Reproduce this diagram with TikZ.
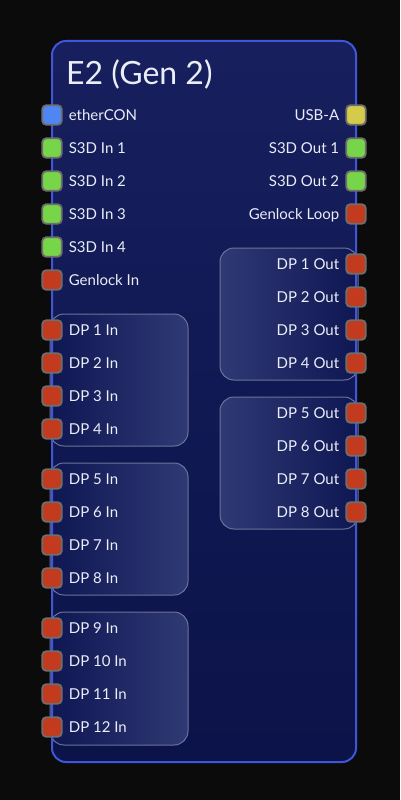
\documentclass[tikz,border=0pt]{standalone}
\usepackage{fontspec}
\setmainfont{Lato}
\usetikzlibrary{positioning}
\definecolor{bgdark}{HTML}{0B0B0C}
\definecolor{devtop}{HTML}{171F5E}
\definecolor{devbot}{HTML}{0B1349}
\definecolor{devnavy}{HTML}{0F1753}
\definecolor{devblue}{HTML}{3F55DA}
\definecolor{grplight}{HTML}{2F3974}
\definecolor{grpedge}{HTML}{6C7399}
\definecolor{portgray}{HTML}{6E6E6E}
\definecolor{portblue}{HTML}{4F86F4}
\definecolor{portgreen}{HTML}{77D549}
\definecolor{portyellow}{HTML}{D5CB4B}
\definecolor{portred}{HTML}{C23B1F}
\definecolor{labelwhite}{HTML}{EAEEF7}

\begin{document}
\begin{tikzpicture}[x=1pt, y=-1pt]
    \tikzstyle{devbox} = [rectangle, rounded corners=14pt, minimum width=304pt, minimum height=721pt, inner sep=0pt];
    \tikzstyle{grp} = [rounded corners=14pt, draw=grpedge, line width=1pt];
    \tikzstyle{port} = [rectangle, draw=portgray, line width=1.8pt, rounded corners=4pt, minimum size=19.5pt, inner sep=0pt];
    \tikzstyle{lbl} = [text=labelwhite, font=\fontsize{15}{18}\selectfont, inner sep=0pt, text height=12pt, text depth=2pt];
    \fill[bgdark] (0,0) rectangle (400,800);
    \useasboundingbox (0,0) rectangle (400,800);
    % device body
    \node[devbox, top color=devtop, bottom color=devbot] (dev) at (204,401.5) {};
    \node[text=labelwhite, font=\fontsize{32}{38}\selectfont, anchor=west, inner sep=0pt] (title) at (66,74) {E2 (Gen 2)};
    % port groups
    \foreach \top/\bot in {314/446, 463/595, 612/745}
        \draw[grp, left color=devnavy, right color=grplight] (50,\top) rectangle (188,\bot);
    \foreach \top/\bot in {248/380, 397/529}
        \draw[grp, left color=grplight, right color=devnavy] (220,\top) rectangle (358,\bot);
    \node[devbox, draw=devblue, line width=2pt] (frame) at (204,401.5) {};
    % inputs
    \foreach \name/\y/\col/\txt in {ether/115/portblue/etherCON, sin1/148/portgreen/S3D In 1, sin2/181/portgreen/S3D In 2,
            sin3/214/portgreen/S3D In 3, sin4/247/portgreen/S3D In 4, gin/280/portred/Genlock In,
            dpin1/330/portred/DP 1 In, dpin2/363/portred/DP 2 In, dpin3/396/portred/DP 3 In, dpin4/429/portred/DP 4 In,
            dpin5/479/portred/DP 5 In, dpin6/512/portred/DP 6 In, dpin7/545/portred/DP 7 In, dpin8/578/portred/DP 8 In,
            dpin9/628/portred/DP 9 In, dpin10/661/portred/DP 10 In, dpin11/694/portred/DP 11 In, dpin12/727/portred/DP 12 In}
    {
        \node[port, fill=\col] (\name) at (52,\y) {};
        \node[lbl, right=6pt of \name] (\name-l) {\txt};
    }
    % outputs
    \foreach \name/\y/\col/\txt in {usb/115/portyellow/USB-A, sout1/148/portgreen/S3D Out 1, sout2/181/portgreen/S3D Out 2,
            gloop/214/portred/Genlock Loop,
            dpout1/264/portred/DP 1 Out, dpout2/297/portred/DP 2 Out, dpout3/330/portred/DP 3 Out, dpout4/363/portred/DP 4 Out,
            dpout5/413/portred/DP 5 Out, dpout6/446/portred/DP 6 Out, dpout7/479/portred/DP 7 Out, dpout8/512/portred/DP 8 Out}
    {
        \node[port, fill=\col] (\name) at (356,\y) {};
        \node[lbl, left=6pt of \name] (\name-l) {\txt};
    }
\end{tikzpicture}
\end{document}
